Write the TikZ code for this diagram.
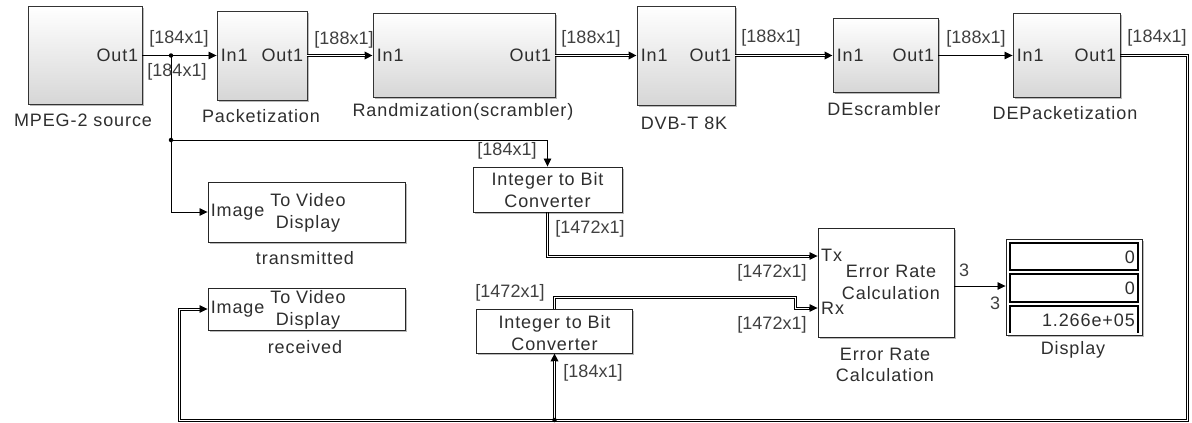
\documentclass[tikz,border=0pt]{standalone}
\usepackage{fontspec}
\setmainfont{Liberation Sans}[LetterSpace=5]
\newfontfamily\sigf{Liberation Sans}
\usetikzlibrary{arrows.meta,shadows}
\newcommand\fs{\fontsize{18}{21.5}\selectfont}
\tikzset{
  shblk/.style={draw=black!80, line width=0.9pt, top color=white, bottom color=black!16,
    drop shadow={shadow xshift=1.5pt, shadow yshift=-1.5pt, fill=black!45, opacity=0.6}, inner sep=0},
  wblk/.style={draw=black!85, line width=0.9pt, fill=white,
    drop shadow={shadow xshift=1.5pt, shadow yshift=-1.5pt, fill=black!45, opacity=0.6}, inner sep=0},
  txt/.style={font=\fs, text=black!82, inner sep=0},
  sig/.style={font=\sigf\fs, text=black!75, inner sep=0},
  tip/.style={-{Triangle[length=8pt,width=7.5pt]}},
  sline/.style={draw=black, line width=0.8pt, tip},
  dline/.style={draw=black, line width=2.8pt, tip,
    postaction={draw=white, line width=1.3pt, -, shorten >=8pt}},
  tl/.style={draw=black, line width=0.75pt},
  jdot/.style={circle, fill=black, inner sep=0, minimum size=4.5pt},
}
\begin{document}
\begin{tikzpicture}[x=1pt,y=-1pt]
\useasboundingbox (0,0) rectangle (1192,423);
% main row blocks
\node[shblk, minimum width=114pt, minimum height=98pt] (mpeg) at (85,55.5) {};
\node[shblk, minimum width=90pt, minimum height=89pt] (pack) at (262,55.5) {};
\node[shblk, minimum width=182pt, minimum height=84pt] (rand) at (464,55.5) {};
\node[shblk, minimum width=98pt, minimum height=99pt] (dvb) at (686,55.5) {};
\node[shblk, minimum width=105pt, minimum height=74pt] (desc) at (885.5,55.5) {};
\node[shblk, minimum width=107pt, minimum height=84pt] (depk) at (1066.5,55.5) {};
% port labels
\node[txt, anchor=east] (mpegO) at ([xshift=-4pt]mpeg.east) {Out1};
\node[txt, anchor=west] (packI) at ([xshift=4pt]pack.west) {In1};
\node[txt, anchor=east] (packO) at ([xshift=-4pt]pack.east) {Out1};
\node[txt, anchor=west] (randI) at ([xshift=4pt]rand.west) {In1};
\node[txt, anchor=east] (randO) at ([xshift=-4pt]rand.east) {Out1};
\node[txt, anchor=west] (dvbI) at ([xshift=4pt]dvb.west) {In1};
\node[txt, anchor=east] (dvbO) at ([xshift=-4pt]dvb.east) {Out1};
\node[txt, anchor=west] (descI) at ([xshift=4pt]desc.west) {In1};
\node[txt, anchor=east] (descO) at ([xshift=-4pt]desc.east) {Out1};
\node[txt, anchor=west] (depkI) at ([xshift=4pt]depk.west) {In1};
\node[txt, anchor=east] (depkO) at ([xshift=-4pt]depk.east) {Out1};
% block names
\node[txt] (mpegN) at (83,120) {MPEG-2 source};
\node[txt] (packN) at (261,116) {Packetization};
\node[txt] (randN) at (463,112) {Randmization(scrambler)};
\node[txt] (dvbN) at (684,123) {DVB-T 8K};
\node[txt] (descN) at (884,109) {DEscrambler};
\node[txt] (depkN) at (1065,113) {DEPacketization};
% lower blocks
\node[wblk, minimum width=197pt, minimum height=60pt] (tvt) at (306.5,212) {};
\node[txt, anchor=west] (tvtI) at ([xshift=3pt]tvt.west) {Image};
\node[txt, align=center] (tvtT) at (308,213) {To Video\\Display};
\node[txt] (tvtN) at (305,258) {transmitted};
\node[wblk, minimum width=197pt, minimum height=42pt] (rvt) at (306.5,309) {};
\node[txt, anchor=west] (rvtI) at ([xshift=3pt]rvt.west) {Image};
\node[txt, align=center] (rvtT) at (308,310) {To Video\\Display};
\node[txt] (rvtN) at (305,347) {received};
\node[wblk, minimum width=149pt, minimum height=45pt] (conv1) at (547.5,189.5) {};
\node[txt, align=center] (conv1T) at (547.5,190) {Integer to Bit\\Converter};
\node[wblk, minimum width=156pt, minimum height=44pt] (conv2) at (554.5,331) {};
\node[txt, align=center] (conv2T) at (554.5,333) {Integer to Bit\\Converter};
\node[wblk, minimum width=136pt, minimum height=109pt] (erc) at (886,282.5) {};
\node[txt, anchor=west] (ercTx) at (821,255) {Tx};
\node[txt, anchor=west] (ercRx) at (821,308) {Rx};
\node[txt, align=center] (ercT) at (891,282.5) {Error Rate\\Calculation};
\node[txt, align=center] (ercN) at (885,365) {Error Rate\\Calculation};
\node[wblk, minimum width=136pt, minimum height=96pt] (disp) at (1074,287) {};
\node[draw=black, line width=1.1pt, minimum width=128pt, minimum height=27pt, inner sep=0] (d1) at (1074,256.5) {};
\node[draw=black, line width=1.1pt, minimum width=128pt, minimum height=28pt, inner sep=0] (d2) at (1074,288) {};
\draw[black, line width=1.1pt] (1010,333) -- (1010,306) -- (1138,306) -- (1138,333);
\node[txt, anchor=east] (d1v) at (1135,257) {0};
\node[txt, anchor=east] (d2v) at (1135,288) {0};
\node[txt, anchor=east] (d3v) at (1135,320) {1.266e+05};
\node[txt] (dispN) at (1073,350) {Display};
% junctions
\coordinate (j1) at (171,55.5);
\coordinate (j2) at (171,140);
\coordinate (j3) at (554.5,420);
% single-line connectors
\draw[sline] (mpeg.east) -- (pack.west);
\draw[line width=0.8pt] (j1) -- (j2);
\draw[sline] (j2) -| (conv1.north);
\draw[sline] (j2) |- (tvt.west);
\draw[sline] (desc.east) -- (depk.west);
\draw[sline] (erc.east |- 0,286) -- (disp.west |- 0,286);
% straight double-line connectors
\draw[dline] (pack.east) -- (rand.west);
\draw[dline] (rand.east) -- (dvb.west);
\draw[dline] (dvb.east) -- (desc.west);
% feedback (double line drawn as two thin lines)
\draw[tl] ([yshift=1.05pt]depk.east) -- (1188.05,54.45) -- (1188.05,421.05) -- (177.95,421.05) -- (177.95,307.95) -- (201,307.95);
\draw[tl] ([yshift=-1.05pt]depk.east) -- (1185.95,56.55) -- (1185.95,418.95) -- (180.05,418.95) -- (180.05,310.05) -- (201,310.05);
\draw[line width=0.8pt, tip] (200,309) -- (rvt.west);
\draw[dline] (j3) -- (conv2.south);
% converter 1 -> Tx
\draw[tl] ([xshift=-1.05pt]conv1.south) |- (811,257.05);
\draw[tl] ([xshift=1.05pt]conv1.south) |- (811,254.95);
\draw[line width=0.8pt, tip] (809,256) -- (erc.west |- 0,256);
% converter 2 -> Rx
\draw[tl] ([xshift=-1.05pt]conv2.north) -- (553.45,295.95) -- (796.05,295.95) -- (796.05,306.95) -- (811,306.95);
\draw[tl] ([xshift=1.05pt]conv2.north) -- (555.55,298.05) -- (793.95,298.05) -- (793.95,309.05) -- (811,309.05);
\draw[line width=0.8pt, tip] (809,308) -- (erc.west |- 0,308);
\node[jdot] at (j1) {};
\node[jdot] at (j2) {};
\node[jdot] at (j3) {};
% signal labels
\node[sig] (s1) at (179,39) {[184x1]};
\node[sig] (s2) at (177,72) {[184x1]};
\node[sig] (s3) at (344,40) {[188x1]};
\node[sig] (s4) at (591,39) {[188x1]};
\node[sig] (s5) at (771,38) {[188x1]};
\node[sig] (s6) at (976,39) {[188x1]};
\node[sig] (s7) at (1157,38) {[184x1]};
\node[sig] (s8) at (507,151) {[184x1]};
\node[sig] (s9) at (590,229) {[1472x1]};
\node[sig] (s10) at (772,273) {[1472x1]};
\node[sig] (s11) at (772,325) {[1472x1]};
\node[sig] (s12) at (510,293) {[1472x1]};
\node[sig] (s13) at (593,373) {[184x1]};
\node[sig] (s14) at (964,270) {3};
\node[sig] (s15) at (995,303) {3};
\end{tikzpicture}
\end{document}
